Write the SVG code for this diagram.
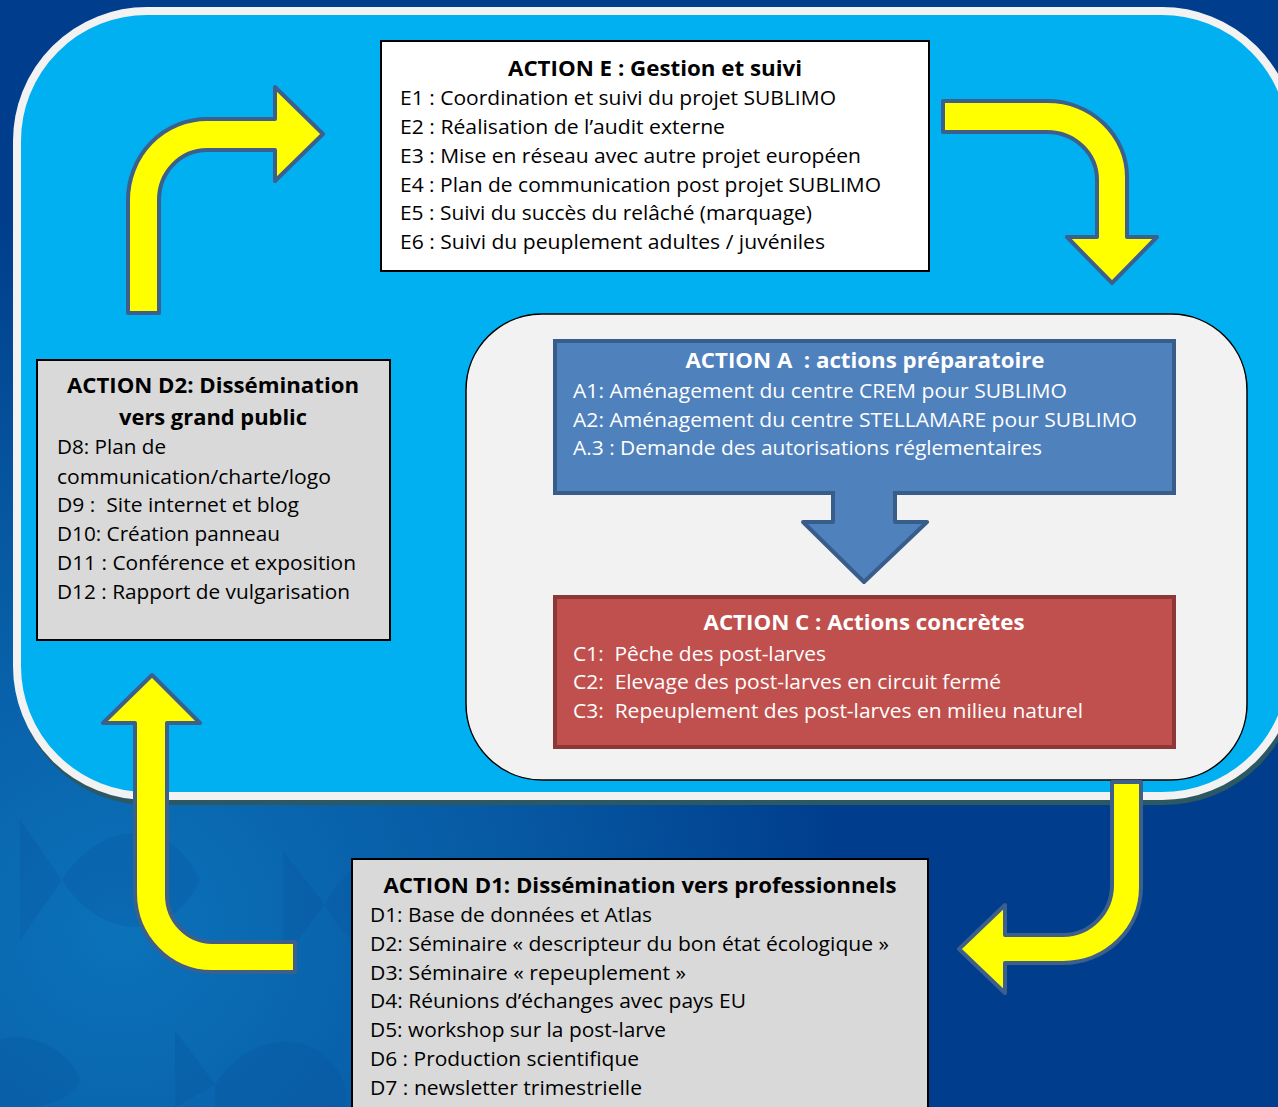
<svg xmlns="http://www.w3.org/2000/svg" width="1278" height="1107" viewBox="0 0 1278 1107">
<defs>
<radialGradient id="bg" cx="120" cy="930" r="720" gradientUnits="userSpaceOnUse">
<stop offset="0" stop-color="#0b72b9"/>
<stop offset="0.55" stop-color="#0759a3"/>
<stop offset="1" stop-color="#003e8d"/>
</radialGradient>
<style>
.t{font-family:"Open Sans","Liberation Sans",sans-serif;font-size:19.5px;fill:#000}
.b{font-weight:700;font-size:20.5px}
.w{fill:#fff}
.ya{fill:#ffff00;stroke:#3c5f8c;stroke-width:4;stroke-linejoin:round}
.fish{fill:#0a4f98;opacity:0.22}
</style>
</defs>
<rect width="1278" height="1107" fill="url(#bg)"/>
<g>
<path class="fish" d="M20,820 L62,880 L20,940 Z M62,880 C100,820 170,815 200,880 C170,945 100,940 62,880 Z"/>
<path class="fish" d="M283,850 L325,905 L283,960 Z M325,905 C355,850 390,850 400,905 C390,960 355,960 325,905 Z"/>
<path class="fish" d="M0,1040 C30,1030 70,1050 80,1080 C70,1105 30,1110 0,1107 Z"/>
<path class="fish" d="M175,1030 L215,1085 L175,1107 Z M215,1085 C250,1030 320,1025 345,1085 L345,1107 L215,1107 Z"/>
</g>
<rect x="19" y="16" width="1275" height="785" rx="130" fill="#2b5863" stroke="#2b5863" stroke-width="8"/>
<rect x="17" y="11" width="1275" height="785" rx="130" fill="#00b0f0" stroke="#f2f2f2" stroke-width="8"/>
<rect x="466" y="314" width="781" height="466" rx="76" fill="#f2f2f2" stroke="#000" stroke-width="1.5"/>

<g id="actionA">
<rect x="555" y="341" width="619" height="152" fill="#4f81bd" stroke="#385d8a" stroke-width="4"/>
<text class="t b w" x="865" y="368" text-anchor="middle" textLength="359" lengthAdjust="spacingAndGlyphs" xml:space="preserve">ACTION A  : actions préparatoire</text>
<text class="t w" x="573" y="398" textLength="494" lengthAdjust="spacingAndGlyphs">A1: Aménagement du centre CREM pour SUBLIMO</text>
<text class="t w" x="573" y="427" textLength="564" lengthAdjust="spacingAndGlyphs">A2: Aménagement du centre STELLAMARE pour SUBLIMO</text>
<text class="t w" x="573" y="455" textLength="469" lengthAdjust="spacingAndGlyphs">A.3 : Demande des autorisations réglementaires</text>
</g>

<g id="actionC">
<rect x="555" y="597" width="619" height="150" fill="#c0504d" stroke="#8c3836" stroke-width="4"/>
<text class="t b w" x="864" y="630" text-anchor="middle" textLength="321" lengthAdjust="spacingAndGlyphs">ACTION C : Actions concrètes</text>
<text class="t w" x="573" y="661" textLength="253" lengthAdjust="spacingAndGlyphs" xml:space="preserve">C1:  Pêche des post-larves</text>
<text class="t w" x="573" y="689" textLength="428" lengthAdjust="spacingAndGlyphs" xml:space="preserve">C2:  Elevage des post-larves en circuit fermé</text>
<text class="t w" x="573" y="718" textLength="510" lengthAdjust="spacingAndGlyphs" xml:space="preserve">C3:  Repeuplement des post-larves en milieu naturel</text>
</g>

<g id="actionE">
<rect x="381" y="41" width="548" height="230" fill="#fff" stroke="#000" stroke-width="2"/>
<text class="t b" x="655" y="76" text-anchor="middle" textLength="294" lengthAdjust="spacingAndGlyphs">ACTION E : Gestion et suivi</text>
<text class="t" x="400" y="105" textLength="436" lengthAdjust="spacingAndGlyphs">E1 : Coordination et suivi du projet SUBLIMO</text>
<text class="t" x="400" y="134" textLength="325" lengthAdjust="spacingAndGlyphs">E2 : Réalisation de l’audit externe</text>
<text class="t" x="400" y="163" textLength="461" lengthAdjust="spacingAndGlyphs">E3 : Mise en réseau avec autre projet européen</text>
<text class="t" x="400" y="192" textLength="481" lengthAdjust="spacingAndGlyphs">E4 : Plan de communication post projet SUBLIMO</text>
<text class="t" x="400" y="220" textLength="412" lengthAdjust="spacingAndGlyphs">E5 : Suivi du succès du relâché (marquage)</text>
<text class="t" x="400" y="249" textLength="425" lengthAdjust="spacingAndGlyphs">E6 : Suivi du peuplement adultes / juvéniles</text>
</g>

<g id="actionD2">
<rect x="37" y="360" width="353" height="280" fill="#d9d9d9" stroke="#000" stroke-width="2"/>
<text class="t b" x="213" y="393" text-anchor="middle" textLength="292" lengthAdjust="spacingAndGlyphs">ACTION D2: Dissémination</text>
<text class="t b" x="213" y="425" text-anchor="middle" textLength="188" lengthAdjust="spacingAndGlyphs">vers grand public</text>
<text class="t" x="57" y="454" textLength="109" lengthAdjust="spacingAndGlyphs">D8: Plan de</text>
<text class="t" x="57" y="484" textLength="274" lengthAdjust="spacingAndGlyphs">communication/charte/logo</text>
<text class="t" x="57" y="512" textLength="242" lengthAdjust="spacingAndGlyphs" xml:space="preserve">D9 :  Site internet et blog</text>
<text class="t" x="57" y="541" textLength="223" lengthAdjust="spacingAndGlyphs">D10: Création panneau</text>
<text class="t" x="57" y="570" textLength="299" lengthAdjust="spacingAndGlyphs">D11 : Conférence et exposition</text>
<text class="t" x="57" y="599" textLength="293" lengthAdjust="spacingAndGlyphs">D12 : Rapport de vulgarisation</text>
</g>

<g id="actionD1">
<rect x="352" y="859" width="576" height="262" fill="#d9d9d9" stroke="#000" stroke-width="2"/>
<text class="t b" x="640" y="893" text-anchor="middle" textLength="513" lengthAdjust="spacingAndGlyphs">ACTION D1: Dissémination vers professionnels</text>
<text class="t" x="370" y="922" textLength="282" lengthAdjust="spacingAndGlyphs">D1: Base de données et Atlas</text>
<text class="t" x="370" y="951" textLength="519" lengthAdjust="spacingAndGlyphs">D2: Séminaire « descripteur du bon état écologique »</text>
<text class="t" x="370" y="980" textLength="316" lengthAdjust="spacingAndGlyphs">D3: Séminaire « repeuplement »</text>
<text class="t" x="370" y="1008" textLength="376" lengthAdjust="spacingAndGlyphs">D4: Réunions d’échanges avec pays EU</text>
<text class="t" x="370" y="1037" textLength="296" lengthAdjust="spacingAndGlyphs">D5: workshop sur la post-larve</text>
<text class="t" x="370" y="1066" textLength="269" lengthAdjust="spacingAndGlyphs">D6 : Production scientifique</text>
<text class="t" x="370" y="1095" textLength="272" lengthAdjust="spacingAndGlyphs">D7 : newsletter trimestrielle</text>
</g>

<g id="connectors">
<path d="M833,491 L833,522 L803,522 L864,582 L927,522 L895,522 L895,491" fill="#4f81bd" stroke="#385d8a" stroke-width="4" stroke-linejoin="round"/>
<path class="ya" d="M128,313 L128,200 A79,81 0 0 1 207,119 L275,119 L275,87 L323,134 L275,181 L275,150 L207,150 A48,50 0 0 0 159,200 L159,313 Z"/>
<path class="ya" d="M943,101 L1047,101 A80,76 0 0 1 1127,177 L1127,237 L1157,237 L1112,283 L1067,237 L1097,237 L1097,180 A50,48 0 0 0 1047,132 L943,132 Z"/>
<path class="ya" d="M1112,782 L1141,782 L1141,887 A78,76 0 0 1 1063,963 L1005,963 L1005,993 L959,949 L1005,905 L1005,935 L1063,935 A49,50 0 0 0 1112,885 Z"/>
<path class="ya" d="M295,942 L295,972 L212,972 A77,79 0 0 1 135,893 L135,723 L103,723 L152,675 L200,723 L167,723 L167,895 A45,47 0 0 0 212,942 Z"/>
</g>
</svg>
